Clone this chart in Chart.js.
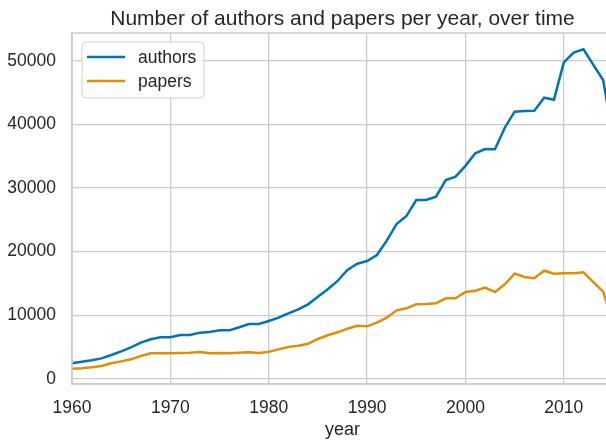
<!DOCTYPE html>
<html>
<head>
<meta charset="utf-8">
<script src="https://cdn.jsdelivr.net/npm/chart.js@4"></script>
<style>
  html, body { margin: 0; padding: 0; background: #fff; overflow: hidden; }
  #wrap { width: 606px; height: 442px; overflow: hidden; }
  #wrap canvas { display: block; }
</style>
</head>
<body>
<div id="wrap"><canvas id="chart" width="620" height="442"></canvas></div>
<script>
// data
const years = [1960, 1961, 1962, 1963, 1964, 1965, 1966, 1967, 1968, 1969,
  1970, 1971, 1972, 1973, 1974, 1975, 1976, 1977, 1978, 1979,
  1980, 1981, 1982, 1983, 1984, 1985, 1986, 1987, 1988, 1989,
  1990, 1991, 1992, 1993, 1994, 1995, 1996, 1997, 1998, 1999,
  2000, 2001, 2002, 2003, 2004, 2005, 2006, 2007, 2008, 2009,
  2010, 2011, 2012, 2013, 2014, 2015];
const authors = [2420, 2680, 2890, 3200, 3730, 4310, 4940, 5670, 6200, 6510,
  6510, 6880, 6880, 7250, 7350, 7610, 7610, 8090, 8610, 8610,
  9080, 9600, 10290, 10920, 11700, 12910, 14070, 15380, 17110, 18100,
  18520, 19470, 21720, 24350, 25600, 28120, 28120, 28640, 31270, 31800,
  33500, 35470, 36150, 36100, 39500, 42020, 42130, 42180, 44230, 43910,
  49790, 51310, 51840, 49400, 47000, 38000];
const papers = [1580, 1630, 1790, 2000, 2420, 2730, 3050, 3570, 3990, 3990,
  3990, 4050, 4100, 4200, 4020, 4050, 4000, 4100, 4150, 4050,
  4220, 4620, 4990, 5200, 5510, 6250, 6830, 7300, 7870, 8340,
  8240, 8820, 9600, 10760, 11080, 11700, 11760, 11860, 12650, 12650,
  13650, 13850, 14330, 13650, 14850, 16530, 16000, 15800, 17000, 16530,
  16580, 16580, 16740, 15200, 13700, 8800];
const xTicks = [1960, 1970, 1980, 1990, 2000, 2010];
const yTicks = [0, 10000, 20000, 30000, 40000, 50000];
const chartTitle = "Number of authors and papers per year, over time";

const FONT = '"Liberation Sans", Arial, sans-serif';
const TEXT = "#262626";
const GRID = "#cccccc";

const toPoints = (vals) => years.map((yr, i) => ({ x: yr, y: vals[i] }));

// spines, title centred over the axes, legend box inside the axes
const framePlugin = {
  id: "frame",
  afterDraw(chart) {
    const { ctx, chartArea: a } = chart;
    ctx.save();
    ctx.strokeStyle = GRID;
    ctx.lineWidth = 1.5;
    ctx.strokeRect(a.left, a.top, a.right - a.left, a.bottom - a.top);

    ctx.font = "21px " + FONT;
    ctx.fillStyle = TEXT;
    ctx.textAlign = "center";
    ctx.textBaseline = "alphabetic";
    ctx.fillText(chartTitle, (a.left + a.right) / 2, 25);

    // legend
    const x0 = 82, y0 = 42, w = 122, h = 56, r = 4;
    ctx.beginPath();
    ctx.roundRect(x0, y0, w, h, r);
    ctx.fillStyle = "rgba(255,255,255,0.85)";
    ctx.fill();
    ctx.strokeStyle = "rgba(204,204,204,0.9)";
    ctx.lineWidth = 1;
    ctx.stroke();

    ctx.font = "17.5px " + FONT;
    ctx.textAlign = "left";
    ctx.textBaseline = "middle";
    ctx.fillStyle = TEXT;
    chart.data.datasets.forEach((ds, i) => {
      const yy = 57 + i * 24;
      ctx.beginPath();
      ctx.moveTo(87, yy);
      ctx.lineTo(125, yy);
      ctx.strokeStyle = ds.borderColor;
      ctx.lineWidth = ds.borderWidth;
      ctx.stroke();
      ctx.fillText(ds.label, 138, yy + 1);
    });
    ctx.restore();
  }
};

new Chart(document.getElementById("chart"), {
  type: "line",
  data: {
    datasets: [
      { label: "authors", data: toPoints(authors), borderColor: "#0173b2", borderWidth: 2.5, pointRadius: 0, tension: 0 },
      { label: "papers", data: toPoints(papers), borderColor: "#de8f05", borderWidth: 2.5, pointRadius: 0, tension: 0 }
    ]
  },
  options: {
    responsive: false,
    animation: false,
    layout: { padding: { left: 0, right: 7, top: 33, bottom: 0 } },
    plugins: {
      legend: { display: false },
      tooltip: { enabled: false },
      title: { display: false }
    },
    scales: {
      x: {
        type: "linear",
        min: 1960,
        max: 2015,
        afterBuildTicks: (s) => { s.ticks = xTicks.map((v) => ({ value: v })); },
        afterFit: (s) => { s.height = 58; },
        ticks: { color: TEXT, font: { family: FONT, size: 17.5 }, padding: 14, callback: (v) => String(v) },
        grid: { color: GRID, lineWidth: 1.3, drawTicks: false },
        border: { color: GRID, width: 1.5 },
        title: { display: true, text: "year", color: TEXT, font: { family: FONT, size: 18 }, padding: { top: 4, bottom: 1 } }
      },
      y: {
        min: -834,
        max: 54406,
        afterBuildTicks: (s) => { s.ticks = yTicks.map((v) => ({ value: v })); },
        afterFit: (s) => { s.width = 72; },
        ticks: { color: TEXT, font: { family: FONT, size: 17.5 }, padding: 16, callback: (v) => String(v) },
        grid: { color: GRID, lineWidth: 1.3, drawTicks: false },
        border: { color: GRID, width: 1.5 }
      }
    }
  },
  plugins: [framePlugin]
});
</script>
</body>
</html>
